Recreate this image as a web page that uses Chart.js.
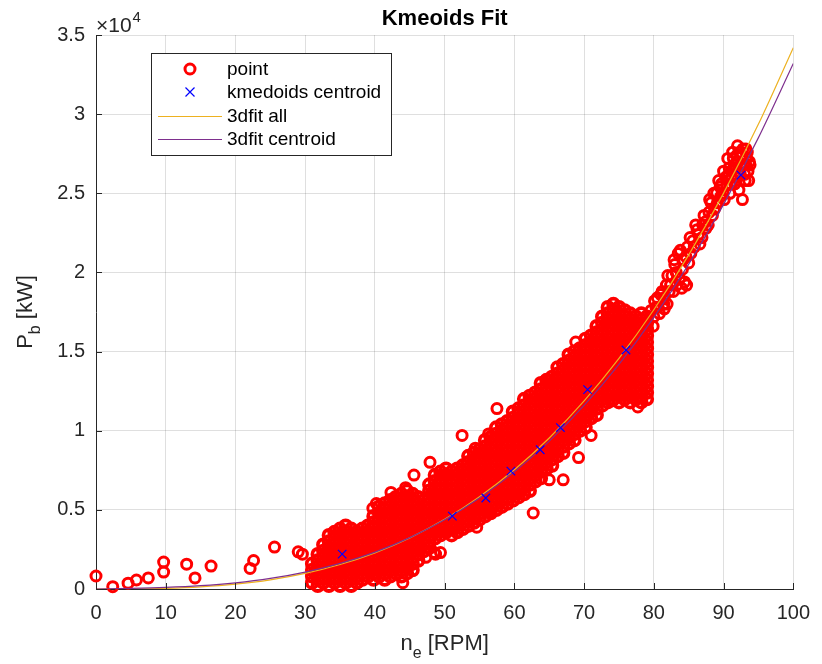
<!DOCTYPE html>
<html>
<head>
<meta charset="utf-8">
<script src="https://cdn.jsdelivr.net/npm/chart.js@4.4.1/dist/chart.umd.min.js"></script>
<style>
  body { margin: 0; background: #fff; }
  #wrap { width: 822px; height: 664px; }
</style>
</head>
<body>
<div id="wrap"><canvas id="kmChart" width="822" height="664"></canvas></div>
<script>
// n_e [RPM] against P_b, y values in units of 10^4 kW

// dense part of the measured cloud, one column per x position
const cloudX = [31.0, 31.8, 32.6, 33.4, 34.2, 35.0, 35.8, 36.6, 37.4, 38.2,
                39.0, 39.8, 40.6, 41.4, 42.2, 43.0, 43.8, 44.6, 45.4, 46.2,
                47.0, 47.8, 48.6, 49.4, 50.2, 51.0, 51.8, 52.6, 53.4, 54.2,
                55.0, 55.8, 56.6, 57.4, 58.2, 59.0, 59.8, 60.6, 61.4, 62.2,
                63.0, 63.8, 64.6, 65.4, 66.2, 67.0, 67.8, 68.6, 69.4, 70.2,
                71.0, 71.8, 72.6, 73.4, 74.2, 75.0, 75.8, 76.6, 77.4, 78.2, 79.0];
const cloudY = [
  [.04,.08,.12,.16],
  [.02,.06,.10,.14,.18,.22],
  [.04,.08,.12,.16,.20,.24,.28],
  [.02,.06,.10,.14,.18,.22,.26,.30,.34],
  [.04,.08,.12,.16,.20,.24,.28,.32,.36],
  [.02,.06,.10,.14,.18,.22,.26,.30,.34,.38],
  [.04,.08,.12,.16,.20,.24,.28,.32,.36,.40],
  [.02,.06,.10,.14,.18,.22,.26,.30,.34,.38],
  [.04,.08,.12,.16,.20,.24,.28,.32,.36],
  [.06,.10,.14,.18,.22,.26,.30,.34,.38],
  [.08,.12,.16,.20,.24,.28,.32,.36,.40],
  [.06,.10,.14,.18,.22,.26,.30,.34,.38,.42,.46],
  [.08,.12,.16,.20,.24,.28,.32,.36,.40,.44,.48,.52],
  [.06,.10,.14,.18,.22,.26,.30,.34,.38,.42,.46,.50,.54],
  [.08,.12,.16,.20,.24,.28,.32,.36,.40,.44,.48,.52,.56],
  [.10,.14,.18,.22,.26,.30,.34,.38,.42,.46,.50,.54,.58],
  [.08,.12,.16,.20,.24,.28,.32,.36,.40,.44,.48,.52,.56,.60],
  [.10,.14,.18,.22,.26,.30,.34,.38,.42,.46,.50,.54,.58,.62],
  [.12,.16,.20,.24,.28,.32,.36,.40,.44,.48,.52,.56,.60],
  [.18,.22,.26,.30,.34,.38,.42,.46,.50,.54,.58],
  [.24,.28,.32,.36,.40,.44,.48,.52,.56],
  [.26,.30,.34,.38,.42,.46,.50,.54,.58,.62,.66],
  [.32,.36,.40,.44,.48,.52,.56,.60,.64,.68,.72],
  [.34,.38,.42,.46,.50,.54,.58,.62,.66,.70,.74],
  [.36,.40,.44,.48,.52,.56,.60,.64,.68,.72,.76],
  [.34,.38,.42,.46,.50,.54,.58,.62,.66,.70,.74],
  [.36,.40,.44,.48,.52,.56,.60,.64,.68,.72,.76],
  [.38,.42,.46,.50,.54,.58,.62,.66,.70,.74,.78],
  [.40,.44,.48,.52,.56,.60,.64,.68,.72,.76,.80,.84],
  [.42,.46,.50,.54,.58,.62,.66,.70,.74,.78,.82,.86],
  [.44,.48,.52,.56,.60,.64,.68,.72,.76,.80,.84,.88],
  [.46,.50,.54,.58,.62,.66,.70,.74,.78,.82,.86,.90,.94],
  [.48,.52,.56,.60,.64,.68,.72,.76,.80,.84,.88,.92,.96],
  [.50,.54,.58,.62,.66,.70,.74,.78,.82,.86,.90,.94,.98,1.02],
  [.52,.56,.60,.64,.68,.72,.76,.80,.84,.88,.92,.96,1.00,1.04],
  [.54,.58,.62,.66,.70,.74,.78,.82,.86,.90,.94,.98,1.02,1.06],
  [.56,.60,.64,.68,.72,.76,.80,.84,.88,.92,.96,1.00,1.04,1.08,1.12],
  [.58,.62,.66,.70,.74,.78,.82,.86,.90,.94,.98,1.02,1.06,1.10,1.14],
  [.60,.64,.68,.72,.76,.80,.84,.88,.92,.96,1.00,1.04,1.08,1.12,1.16,1.20],
  [.62,.66,.70,.74,.78,.82,.86,.90,.94,.98,1.02,1.06,1.10,1.14,1.18,1.22],
  [.68,.72,.76,.80,.84,.88,.92,.96,1.00,1.04,1.08,1.12,1.16,1.20,1.24],
  [.70,.74,.78,.82,.86,.90,.94,.98,1.02,1.06,1.10,1.14,1.18,1.22,1.26,1.30],
  [.76,.80,.84,.88,.92,.96,1.00,1.04,1.08,1.12,1.16,1.20,1.24,1.28,1.32],
  [.78,.82,.86,.90,.94,.98,1.02,1.06,1.10,1.14,1.18,1.22,1.26,1.30,1.34],
  [.84,.88,.92,.96,1.00,1.04,1.08,1.12,1.16,1.20,1.24,1.28,1.32,1.36,1.40],
  [.86,.90,.94,.98,1.02,1.06,1.10,1.14,1.18,1.22,1.26,1.30,1.34,1.38,1.42],
  [.92,.96,1.00,1.04,1.08,1.12,1.16,1.20,1.24,1.28,1.32,1.36,1.40,1.44,1.48],
  [.94,.98,1.02,1.06,1.10,1.14,1.18,1.22,1.26,1.30,1.34,1.38,1.42,1.46,1.50],
  [1.00,1.04,1.08,1.12,1.16,1.20,1.24,1.28,1.32,1.36,1.40,1.44,1.48,1.52],
  [1.02,1.06,1.10,1.14,1.18,1.22,1.26,1.30,1.34,1.38,1.42,1.46,1.50,1.54,1.58],
  [1.08,1.12,1.16,1.20,1.24,1.28,1.32,1.36,1.40,1.44,1.48,1.52,1.56,1.60],
  [1.10,1.14,1.18,1.22,1.26,1.30,1.34,1.38,1.42,1.46,1.50,1.54,1.58,1.62,1.66],
  [1.16,1.20,1.24,1.28,1.32,1.36,1.40,1.44,1.48,1.52,1.56,1.60,1.64,1.68,1.72],
  [1.18,1.22,1.26,1.30,1.34,1.38,1.42,1.46,1.50,1.54,1.58,1.62,1.66,1.70,1.74,1.78],
  [1.20,1.24,1.28,1.32,1.36,1.40,1.44,1.48,1.52,1.56,1.60,1.64,1.68,1.72,1.76,1.80],
  [1.18,1.22,1.26,1.30,1.34,1.38,1.42,1.46,1.50,1.54,1.58,1.62,1.66,1.70,1.74,1.78],
  [1.20,1.24,1.28,1.32,1.36,1.40,1.44,1.48,1.52,1.56,1.60,1.64,1.68,1.72,1.76],
  [1.18,1.22,1.26,1.30,1.34,1.38,1.42,1.46,1.50,1.54,1.58,1.62,1.66,1.70,1.74],
  [1.20,1.24,1.28,1.32,1.36,1.40,1.44,1.48,1.52,1.56,1.60,1.64,1.68,1.72],
  [1.18,1.22,1.26,1.30,1.34,1.38,1.42,1.46,1.50,1.54,1.58,1.62,1.66,1.70,1.74],
  [1.20,1.24,1.28,1.32,1.36,1.40,1.44,1.48,1.52,1.56,1.60,1.64,1.68,1.72]
];

// scattered points away from the dense cloud
const looseX = [0.0, 2.4, 4.6, 5.8, 7.5, 9.7, 9.7, 13.0, 14.2, 16.5, 22.1, 22.6, 25.6, 29.0, 29.6,
                39.7, 40.2, 42.3, 44.4, 45.6, 47.9, 44.0, 40.0, 47.3, 48.5, 48.7, 49.4,
                52.5, 53.2, 54.4, 56.3, 57.5, 54.6, 56.5, 62.7, 65.0, 67.0, 69.2, 71.0,
                65.0, 68.8, 74.1, 77.7, 79.9, 81.5];
const looseY = [0.082, 0.015, 0.037, 0.057, 0.07, 0.17, 0.107, 0.157, 0.07, 0.145, 0.13, 0.18, 0.265, 0.235, 0.22,
                0.51, 0.54, 0.61, 0.64, 0.72, 0.80, 0.04, 0.10, 0.20, 0.23, 0.22, 0.23,
                0.97, 0.80, 0.89, 0.98, 1.14, 0.39, 0.49, 0.48, 0.69, 0.69, 0.83, 0.97,
                1.32, 1.56, 1.19, 1.15, 1.66, 1.77];

// high speed tail, 80 to 94 RPM
const tailX = [79.6, 80.0, 80.1, 80.3, 80.5, 80.6, 80.8, 81.0, 81.2, 81.4, 81.5, 81.8, 81.9, 82.0,
               82.2, 82.4, 82.6, 82.8, 82.9, 83.0, 83.2, 83.3, 83.5, 83.7, 83.8, 84.0, 84.1, 84.2,
               84.4, 84.6, 84.7, 84.8, 85.0, 85.2, 85.3, 85.6, 85.8, 86.0, 86.2, 86.4, 86.6, 86.9,
               87.0, 87.2, 87.4, 87.5, 87.8, 87.9, 88.0, 88.2, 88.4, 88.6, 88.7, 89.0, 89.1, 89.3,
               89.5, 89.6, 89.7, 89.9, 90.0, 90.1, 90.3, 90.4, 90.5, 90.6, 90.7, 90.8, 90.9, 91.0,
               91.1, 91.2, 91.3, 91.4, 91.5, 91.6, 91.7, 91.9, 92.0, 92.0, 92.1, 92.2, 92.3, 92.4,
               92.5, 92.6, 92.7, 92.8, 92.9, 93.0, 93.1, 93.2, 93.2, 93.3, 93.4, 93.5, 93.6, 93.7, 93.8];
const tailY = [1.76, 1.72, 1.82, 1.78, 1.84, 1.78, 1.74, 1.86, 1.88, 1.80, 1.84, 1.92, 1.80, 1.98,
               1.88, 1.92, 1.98, 1.88, 2.08, 2.05, 2.00, 1.92, 2.12, 1.96, 2.14, 1.90, 2.02, 2.08,
               1.94, 2.10, 1.92, 2.16, 2.06, 2.22, 2.12, 2.20, 2.16, 2.30, 2.27, 2.24, 2.18, 2.22,
               2.30, 2.36, 2.32, 2.28, 2.30, 2.38, 2.46, 2.44, 2.36, 2.50, 2.40, 2.50, 2.44, 2.58,
               2.54, 2.48, 2.56, 2.50, 2.64, 2.46, 2.60, 2.60, 2.55, 2.72, 2.62, 2.66, 2.50, 2.56,
               2.64, 2.60, 2.76, 2.72, 2.68, 2.56, 2.66, 2.74, 2.80, 2.60, 2.70, 2.52, 2.76, 2.62,
               2.68, 2.74, 2.46, 2.78, 2.68, 2.62, 2.58, 2.78, 2.68, 2.72, 2.76, 2.64, 2.58, 2.70, 2.68];

const centroidX = [35.3, 51.1, 55.9, 59.5, 63.7, 66.6, 70.5, 76.0, 92.5];
const centroidY = [0.22, 0.46, 0.575, 0.745, 0.88, 1.02, 1.26, 1.51, 2.615];

// cubic fit curves
const fitX = [0, 5, 10, 15, 20, 25, 30, 35, 40, 45, 50, 55, 60, 65, 70, 75, 80, 85, 90, 95, 100];
const fitAll = [0, 0.0007, 0.0043, 0.0135, 0.0306, 0.058, 0.0986, 0.1546, 0.2285, 0.323, 0.44,
                0.583, 0.753, 0.954, 1.188, 1.457, 1.764, 2.111, 2.501, 2.937, 3.42];
const fitCentroid = [0, 0.0038, 0.010, 0.0209, 0.0391, 0.067, 0.107, 0.1616, 0.2333, 0.3245, 0.4377,
                     0.5754, 0.740, 0.9339, 1.160, 1.4197, 1.7164, 2.0524, 2.430, 2.8517, 3.32];

const xTicks = [0, 10, 20, 30, 40, 50, 60, 70, 80, 90, 100];
const yTicks = [0, 0.5, 1, 1.5, 2, 2.5, 3, 3.5];

const FONT = '"Liberation Sans", Arial, Helvetica, sans-serif';
const INK = '#262626';
const RED = '#ff0000';

const cloudPoints = [];
cloudX.forEach((x, i) => cloudY[i].forEach(y => cloudPoints.push({ x: x, y: y })));

const toXY = (xs, ys) => xs.map((x, i) => ({ x: x, y: ys[i] }));
const loosePoints = toXY(looseX, looseY).concat(toXY(tailX, tailY));

// text with a subscript, centred on (cx, baseline)
function subText(ctx, main, sub, rest, cx, base, size) {
    const big = size + 'px ' + FONT, small = Math.round(size * 0.72) + 'px ' + FONT;
    ctx.font = big; const w1 = ctx.measureText(main).width; const w3 = ctx.measureText(rest).width;
    ctx.font = small; const w2 = ctx.measureText(sub).width;
    let x = cx - (w1 + w2 + w3) / 2;
    ctx.textAlign = 'left'; ctx.textBaseline = 'alphabetic';
    ctx.font = big; ctx.fillText(main, x, base); x += w1;
    ctx.font = small; ctx.fillText(sub, x, base + 8); x += w2;
    ctx.font = big; ctx.fillText(rest, x, base);
}

const decorations = {
    id: 'decorations',
    afterDraw(chart) {
        const ctx = chart.ctx;
        const { left, right, top, bottom } = chart.chartArea;
        const xs = chart.scales.x, ys = chart.scales.y;
        ctx.save();

        // MATLAB style ticks pointing into the axes
        ctx.strokeStyle = INK; ctx.lineWidth = 1;
        xTicks.forEach(v => {
            const p = Math.round(xs.getPixelForValue(v)) + 0.5;
            ctx.beginPath(); ctx.moveTo(p, bottom); ctx.lineTo(p, bottom - 6); ctx.stroke();
        });
        yTicks.forEach(v => {
            const p = Math.round(ys.getPixelForValue(v)) + 0.5;
            ctx.beginPath(); ctx.moveTo(left, p); ctx.lineTo(left + 6, p); ctx.stroke();
        });

        ctx.fillStyle = '#000';
        ctx.font = 'bold 22px ' + FONT; ctx.textAlign = 'center'; ctx.textBaseline = 'alphabetic';
        ctx.fillText('Kmeoids Fit', (left + right) / 2, 25);

        // exponent of the y axis
        ctx.fillStyle = INK; ctx.textAlign = 'left';
        ctx.font = '21px ' + FONT; ctx.fillText('\u00d710', left, 32);
        const ew = ctx.measureText('\u00d710').width;
        ctx.font = '15px ' + FONT; ctx.fillText('4', left + ew + 1, 22);

        subText(ctx, 'n', 'e', ' [RPM]', (left + right) / 2, 650, 22);

        ctx.save();
        ctx.translate(32, (top + bottom) / 2);
        ctx.rotate(-Math.PI / 2);
        subText(ctx, 'P', 'b', ' [kW]', 0, 0, 22);
        ctx.restore();

        // legend box
        const bx = 151, by = 53, bw = 240, bh = 102;
        ctx.fillStyle = '#fff'; ctx.fillRect(bx, by, bw, bh);
        ctx.strokeStyle = INK; ctx.lineWidth = 1; ctx.strokeRect(bx + 0.5, by + 0.5, bw, bh);
        const rows = [69, 92, 116, 139];
        const ds = chart.data.datasets.filter(d => d.inLegend !== false);
        ctx.font = '19px ' + FONT; ctx.textBaseline = 'middle'; ctx.textAlign = 'left';
        ds.forEach((d, i) => {
            const y = rows[i];
            ctx.strokeStyle = d.borderColor;
            ctx.lineWidth = d.borderWidth;
            if (d.showLine) {
                ctx.beginPath(); ctx.moveTo(158, y + 0.5); ctx.lineTo(222, y + 0.5); ctx.stroke();
            } else if (d.pointStyle === 'circle') {
                ctx.beginPath(); ctx.arc(190, y, d.pointRadius, 0, Math.PI * 2); ctx.stroke();
            } else {
                const r = 4.5;
                ctx.beginPath();
                ctx.moveTo(190 - r, y - r); ctx.lineTo(190 + r, y + r);
                ctx.moveTo(190 + r, y - r); ctx.lineTo(190 - r, y + r);
                ctx.stroke();
            }
            ctx.fillStyle = '#000';
            ctx.fillText(d.label, 227, y + 1);
        });
        ctx.restore();
    }
};

new Chart(document.getElementById('kmChart'), {
    type: 'scatter',
    data: {
        datasets: [
            {
                label: 'point',
                data: loosePoints,
                pointStyle: 'circle',
                pointRadius: 5,
                borderWidth: 3,
                borderColor: RED,
                backgroundColor: 'rgba(0,0,0,0)',
                clip: false,
                order: 4
            },
            {
                // same markers, the overlapping bulk of the cloud
                label: 'point',
                inLegend: false,
                data: cloudPoints,
                pointStyle: 'circle',
                pointRadius: 5.4,
                borderWidth: 3.7,
                borderColor: RED,
                backgroundColor: 'rgba(0,0,0,0)',
                clip: false,
                order: 5
            },
            {
                label: 'kmedoids centroid',
                data: toXY(centroidX, centroidY),
                pointStyle: 'crossRot',
                pointRadius: 6,
                borderWidth: 1.2,
                borderColor: '#0000ff',
                backgroundColor: '#0000ff',
                order: 1
            },
            {
                label: '3dfit all',
                data: toXY(fitX, fitAll),
                showLine: true,
                pointRadius: 0,
                borderWidth: 1.2,
                borderColor: '#edb120',
                cubicInterpolationMode: 'monotone',
                order: 3
            },
            {
                label: '3dfit centroid',
                data: toXY(fitX, fitCentroid),
                showLine: true,
                pointRadius: 0,
                borderWidth: 1.2,
                borderColor: '#7e2f8e',
                cubicInterpolationMode: 'monotone',
                order: 2
            }
        ]
    },
    options: {
        responsive: false,
        animation: false,
        layout: { padding: { top: 35, right: 23, left: 0, bottom: 0 } },
        plugins: { legend: { display: false }, tooltip: { enabled: false } },
        scales: {
            x: {
                type: 'linear', min: 0, max: 100,
                afterBuildTicks: s => { s.ticks = xTicks.map(v => ({ value: v })); },
                afterFit: s => { s.height = 75; },
                grid: { color: 'rgba(38,38,38,0.15)', drawTicks: false },
                border: { color: INK, width: 1 },
                ticks: { color: INK, font: { family: FONT, size: 20 }, padding: 12, maxRotation: 0 }
            },
            y: {
                type: 'linear', min: 0, max: 3.5,
                afterBuildTicks: s => { s.ticks = yTicks.map(v => ({ value: v })); },
                afterFit: s => { s.width = 96; },
                grid: { color: 'rgba(38,38,38,0.15)', drawTicks: false },
                border: { color: INK, width: 1 },
                ticks: { color: INK, font: { family: FONT, size: 20 }, padding: 11,
                         callback: v => String(+v.toFixed(2)) }
            }
        }
    },
    plugins: [decorations]
});
</script>
</body>
</html>
